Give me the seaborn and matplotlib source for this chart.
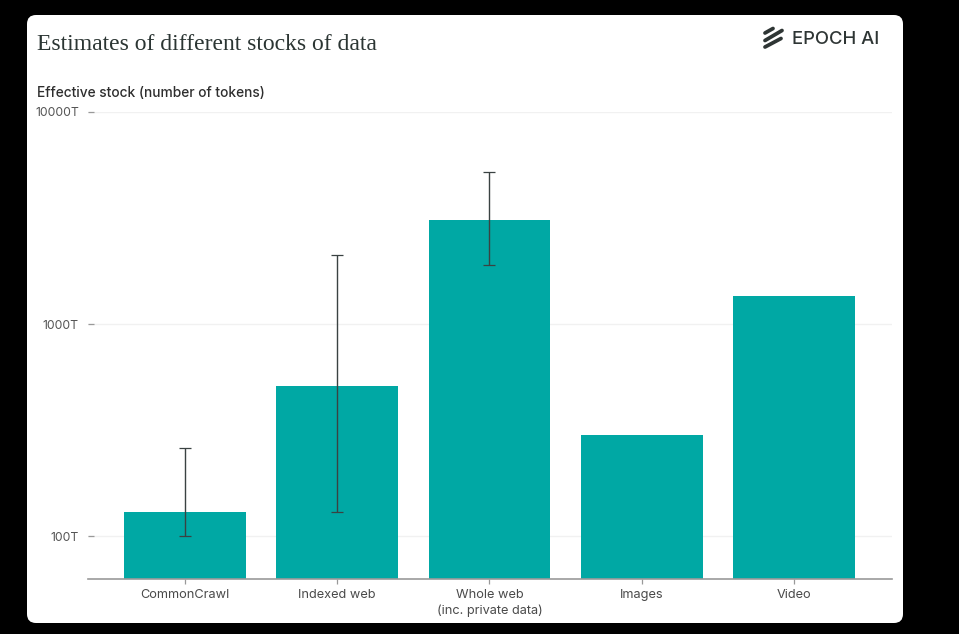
import matplotlib
matplotlib.use("Agg")
import matplotlib.pyplot as plt
from matplotlib.patches import FancyBboxPatch
from matplotlib.lines import Line2D
from matplotlib.ticker import FixedLocator, FixedFormatter, NullLocator
import seaborn as sns
import numpy as np

categories = ["CommonCrawl", "Indexed web", "Whole web\n(inc. private data)", "Images", "Video"]
values = [130, 510, 3100, 300, 1355]
err_low = [100, 130, 1900, np.nan, np.nan]
err_high = [260, 2110, 5200, np.nan, np.nan]
ytick_values = [100, 1000, 10000]
ytick_labels = ["100T", "1000T", "10000T"]

W, H = 959, 634
sns.set_theme(style="white")
plt.rcParams["font.family"] = ["Inter", "DejaVu Sans"]

fig = plt.figure(figsize=(W / 100, H / 100), dpi=100, facecolor="black")

def fx(p): return p / W
def fy(p): return 1 - p / H

card = FancyBboxPatch((27, H - 623), 876, 608, boxstyle="round,pad=0,rounding_size=9",
                      transform=None, facecolor="white", edgecolor="none", zorder=-5)
fig.add_artist(card)

ax = fig.add_axes([fx(88), fy(579), fx(892 - 88), (579 - 112) / H], zorder=2)
ax.patch.set_alpha(0)
sns.barplot(x=categories, y=values, color="#00A8A4", saturation=1, width=0.8, ax=ax, zorder=2,
            linewidth=0)
ax.set_yscale("log")
ax.set_ylim(62.7, 10000)
ax.set_xlim(-0.637, 4.644)

xs = np.arange(len(categories))
for x, lo, hi in zip(xs, err_low, err_high):
    if not np.isnan(lo):
        ax.errorbar([x], [np.sqrt(lo * hi)],
                    yerr=[[np.sqrt(lo * hi) - lo], [hi - np.sqrt(lo * hi)]],
                    color="#3a4242", elinewidth=1, capsize=4.5, capthick=0.9, zorder=3)

ax.yaxis.set_major_locator(FixedLocator(ytick_values))
ax.yaxis.set_major_formatter(FixedFormatter(ytick_labels))
ax.yaxis.set_minor_locator(NullLocator())
ax.grid(axis="y", color="#f1f1f1", linewidth=1, zorder=0)
ax.set_axisbelow(True)
for s in ["top", "left", "right"]:
    ax.spines[s].set_visible(False)
ax.spines["bottom"].set_color("#9a9a9a")
ax.spines["bottom"].set_linewidth(1.2)
ax.tick_params(axis="y", direction="in", length=4, width=0.9, color="#999999", pad=6.5,
               labelsize=8.8, labelcolor="#555555", left=True)
ax.tick_params(axis="x", direction="out", length=3.5, width=0.9, color="#999999", pad=4,
               labelsize=9.2, labelcolor="#4a4a4a", bottom=True)
ax.set_xlabel("")
ax.set_ylabel("")
for lbl in ax.get_xticklabels():
    lbl.set_linespacing(1.3)

fig.text(fx(37), fy(44), "Estimates of different stocks of data", family=["Liberation Serif"],
         fontsize=17, color="#2b3533", va="center", ha="left")
fig.text(fx(37), fy(93), "Effective stock (number of tokens)", fontsize=9.9, color="#2e2e2e",
         va="center", ha="left", fontweight="medium")
fig.text(fx(792), fy(40), "EPOCH AI", fontsize=13.3, color="#2e3534", va="center", ha="left", fontweight="medium")
for (x0, y0, x1, y1) in [(765, 33, 773, 28.5), (765, 40.5, 782, 30.5), (765, 47, 781, 38.5)]:
    fig.add_artist(Line2D([fx(x0), fx(x1)], [fy(y0), fy(y1)], color="#2e3534", linewidth=2.7,
                          solid_capstyle="round"))

fig.savefig("out.png", dpi=100, facecolor="black")
